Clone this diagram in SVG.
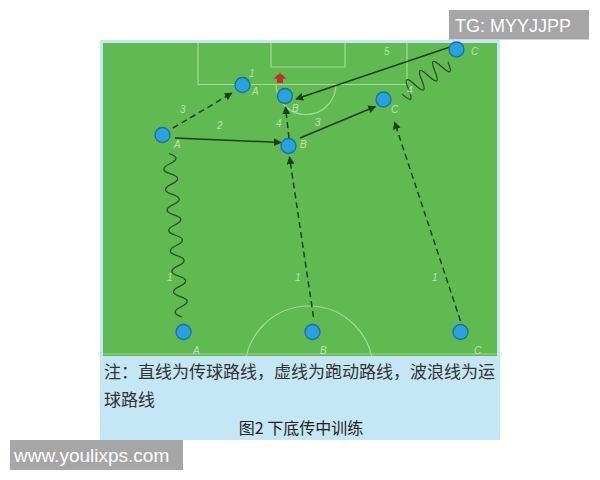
<svg xmlns="http://www.w3.org/2000/svg" width="600" height="480" viewBox="0 0 600 480">
<defs>
<marker id="ah" viewBox="0 0 10 10" refX="9" refY="5" markerWidth="8" markerHeight="8" markerUnits="userSpaceOnUse" orient="auto"><path d="M0,0 L10,5 L0,10 z" fill="#1c3f18"/></marker>
<clipPath id="fieldClip"><rect x="103" y="43" width="394" height="313"/></clipPath>
</defs>
<style>
.fl{fill:none;stroke:#a6da96;stroke-width:1.2}
.pass{fill:none;stroke:#1c3f18;stroke-width:1.5}
.run{fill:none;stroke:#1c3f18;stroke-width:1.5;stroke-dasharray:6 4}
.wave{fill:none;stroke:#24501f;stroke-width:1.3}
.pl{fill:#2aa3dd;stroke:#1b6fa6;stroke-width:1.3}
.lb{font-family:"Liberation Sans",Arial,sans-serif;font-size:10px;fill:#cfeac5;font-style:italic;opacity:0.85}
.cap{font-family:"Noto Sans CJK SC","Noto Sans",sans-serif;font-size:17px;fill:#333}
</style>
<rect width="600" height="480" fill="#ffffff"/>
<rect x="100" y="40" width="400" height="400" fill="#c4e6f5"/>
<rect x="103" y="43" width="394" height="313" fill="#61b951"/>
<g id="field-lines" clip-path="url(#fieldClip)">
<path class="fl" d="M198,43 V84.5 H407 V43"/>
<path class="fl" d="M271,43 V67 H345 V43"/>
<path class="fl" d="M276,84.5 A30,30 0 0 0 336,84.5"/>
<line class="fl" x1="103" y1="354" x2="497" y2="354"/>
<circle class="fl" cx="309" cy="370" r="64"/>
</g>
<polygon id="goal-mark" points="280,73 286.5,78.5 283,78.5 283,83 277,83 277,78.5 273.5,78.5" fill="#c62b2b"/>
<g id="connectors">
<path class="wave" transform="translate(182,317) rotate(-94.5)" d="M0,0 q5.125,-13 10.25,0 t10.25,0 t10.25,0 t10.25,0 t10.25,0 t10.25,0 t10.25,0 t10.25,0 t10.25,0 t10.25,0 t10.25,0 t10.25,0 t10.25,0 t10.25,0 t10.25,0 t10.25,0"/>
<path class="wave" transform="translate(448,62) rotate(145)" d="M0,0 q4,-18 8,0 t8,0 t8,0 t8,0 t8,0 t8,0 t8,0"/>
<line class="pass" x1="175" y1="138" x2="281" y2="142.5" marker-end="url(#ah)"/>
<line class="run" x1="173" y1="128" x2="232" y2="93" marker-end="url(#ah)"/>
<line class="run" x1="289" y1="138" x2="285.5" y2="107" marker-end="url(#ah)"/>
<line class="run" x1="313.5" y1="317" x2="289.5" y2="157" marker-end="url(#ah)"/>
<line class="run" x1="460.5" y1="321" x2="394.5" y2="122" marker-end="url(#ah)"/>
<line class="pass" x1="300" y1="138" x2="375.5" y2="106.5" marker-end="url(#ah)"/>
<line class="pass" x1="450" y1="47" x2="296" y2="99" marker-end="url(#ah)"/>
</g>
<g id="labels">
<text class="lb" x="249" y="77">1</text>
<text class="lb" x="252" y="95">A</text>
<text class="lb" x="292" y="112">B</text>
<text class="lb" x="180" y="113">3</text>
<text class="lb" x="217" y="129">2</text>
<text class="lb" x="276" y="127">4</text>
<text class="lb" x="315" y="126">3</text>
<text class="lb" x="174" y="148">A</text>
<text class="lb" x="300" y="148">B</text>
<text class="lb" x="391" y="113">C</text>
<text class="lb" x="407" y="94">4</text>
<text class="lb" x="384" y="55">5</text>
<text class="lb" x="471" y="55">C</text>
<text class="lb" x="167" y="281">1</text>
<text class="lb" x="295" y="281">1</text>
<text class="lb" x="432" y="281">1</text>
<text class="lb" x="193" y="354">A</text>
<text class="lb" x="320" y="354">B</text>
<text class="lb" x="474" y="354">C</text>
</g>
<g id="player-C-top"><circle class="pl" cx="456.5" cy="49.5" r="7.5"/></g>
<g id="player-A-goal"><circle class="pl" cx="242.5" cy="85" r="7.5"/></g>
<g id="player-B-goal"><circle class="pl" cx="285" cy="96" r="7.5"/></g>
<g id="player-A-mid"><circle class="pl" cx="162.5" cy="135" r="7.5"/></g>
<g id="player-B-mid"><circle class="pl" cx="288.5" cy="146" r="7.5"/></g>
<g id="player-C-mid"><circle class="pl" cx="383.5" cy="99.5" r="7.5"/></g>
<g id="player-A-bottom"><circle class="pl" cx="183.5" cy="332" r="7.5"/></g>
<g id="player-B-bottom"><circle class="pl" cx="312.5" cy="332" r="7.5"/></g>
<g id="player-C-bottom"><circle class="pl" cx="460.5" cy="332" r="7.5"/></g>
<g id="caption">
<text class="cap" x="104" y="378">注：直线为传球路线，虚线为跑动路线，波浪线为运</text>
<text class="cap" x="104" y="405.5">球路线</text>
<text x="301" y="434" text-anchor="middle" font-family="Noto Sans CJK SC, Noto Sans, sans-serif" font-size="16" fill="#222">图2 下底传中训练</text>
</g>
<g id="watermark-tg">
<rect x="449" y="10" width="140" height="29.5" fill="#a6a6a6"/>
<text x="455" y="32" font-family="Liberation Sans, Arial, sans-serif" font-size="18" fill="#ffffff">TG: MYYJJPP</text>
</g>
<g id="watermark-url">
<rect x="10" y="440" width="173" height="30" fill="#a6a6a6"/>
<text x="14" y="462" font-family="Liberation Sans, Arial, sans-serif" font-size="19" fill="#ffffff">www.youlixps.com</text>
</g>
</svg>
